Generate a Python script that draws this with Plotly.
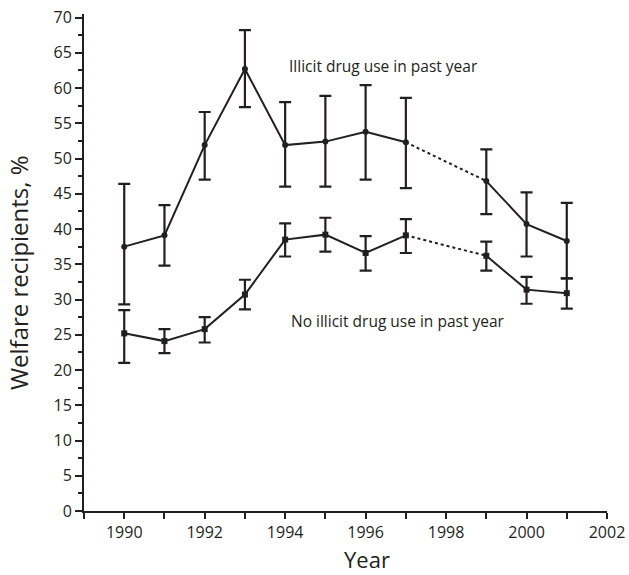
import plotly.graph_objects as go

years = [1990, 1991, 1992, 1993, 1994, 1995, 1996, 1997, 1999, 2000, 2001]
illicit = [37.5, 39.1, 51.9, 62.7, 51.9, 52.4, 53.8, 52.3, 46.8, 40.7, 38.3]
illicit_hi = [46.4, 43.4, 56.6, 68.2, 58.0, 58.9, 60.4, 58.6, 51.3, 45.2, 43.7]
illicit_lo = [29.3, 34.8, 47.0, 57.3, 46.0, 46.0, 47.0, 45.8, 42.1, 36.1, 33.0]
no_illicit = [25.2, 24.1, 25.8, 30.7, 38.5, 39.2, 36.6, 39.1, 36.2, 31.4, 30.9]
no_illicit_hi = [28.5, 25.8, 27.5, 32.8, 40.8, 41.6, 39.0, 41.4, 38.2, 33.2, 33.0]
no_illicit_lo = [21.0, 22.4, 23.9, 28.6, 36.1, 36.8, 34.1, 36.6, 34.1, 29.4, 28.7]

label_illicit = "Illicit drug use in past year"
label_none = "No illicit drug use in past year"
x_title = "Year"
y_title = "Welfare recipients, %"

INK = "#231f20"
fig = go.Figure()

def add_series(y, hi, lo, symbol):
    # segments: solid 1990-1997, dotted 1997-1999, solid 1999-2001
    segs = [(0, 8, "solid"), (7, 9, "dot"), (8, 11, "solid")]
    for a, b, dash in segs:
        fig.add_trace(go.Scatter(
            x=years[a:b], y=y[a:b], mode="lines",
            line=dict(color=INK, width=2, dash=dash),
            hoverinfo="skip", showlegend=False))
    fig.add_trace(go.Scatter(
        x=years, y=y, mode="markers",
        marker=dict(symbol=symbol, size=6, color=INK),
        error_y=dict(type="data", symmetric=False,
                     array=[h - v for h, v in zip(hi, y)],
                     arrayminus=[v - l for v, l in zip(y, lo)],
                     color=INK, thickness=2.2, width=6),
        showlegend=False))

add_series(illicit, illicit_hi, illicit_lo, "circle")
add_series(no_illicit, no_illicit_hi, no_illicit_lo, "square")

fig.add_annotation(x=1996.45, y=63.1, text=label_illicit, showarrow=False,
                   font=dict(size=15.5, color=INK, family="Open Sans"))
fig.add_annotation(x=1996.8, y=26.9, text=label_none, showarrow=False,
                   font=dict(size=15.5, color=INK, family="Open Sans"))
fig.add_annotation(x=0.541, y=-0.0975, xref="paper", yref="paper",
                   text=x_title, showarrow=False, xanchor="center", yanchor="middle",
                   font=dict(size=22, color=INK, family="Open Sans"))
fig.add_annotation(x=-0.124, y=0.479, xref="paper", yref="paper",
                   text=y_title, showarrow=False, textangle=-90,
                   xanchor="center", yanchor="middle",
                   font=dict(size=24, color=INK, family="Open Sans"))

fig.update_layout(
    width=629, height=575,
    margin=dict(l=84, r=22, t=14, b=64),
    plot_bgcolor="white", paper_bgcolor="white",
    font=dict(family="Open Sans", color=INK),
    xaxis=dict(range=[1989, 2002], tickvals=list(range(1990, 2003, 2)),
               automargin=False,
               showgrid=False, zeroline=False, showline=True, linecolor=INK,
               linewidth=2, ticks="outside", ticklen=6, tickwidth=2,
               tickcolor=INK, tickfont=dict(size=16),
               minor=dict(tickvals=list(range(1989, 2003, 2)), ticks="outside",
                          ticklen=6, tickwidth=2, tickcolor=INK)),
    yaxis=dict(range=[0, 70.5], tickvals=list(range(0, 71, 5)),
               automargin=False,
               showgrid=False, zeroline=False, showline=True, linecolor=INK,
               linewidth=2, ticks="outside", ticklen=7, tickwidth=2,
               tickcolor=INK, tickfont=dict(size=16),
               minor=dict(dtick=2.5, ticks="outside", ticklen=4, tickwidth=2,
                          tickcolor=INK)),
)

fig.write_html("out.html", config={"displayModeBar": False},
               post_script="document.body.style.margin='0px';document.body.style.overflow='hidden';")
